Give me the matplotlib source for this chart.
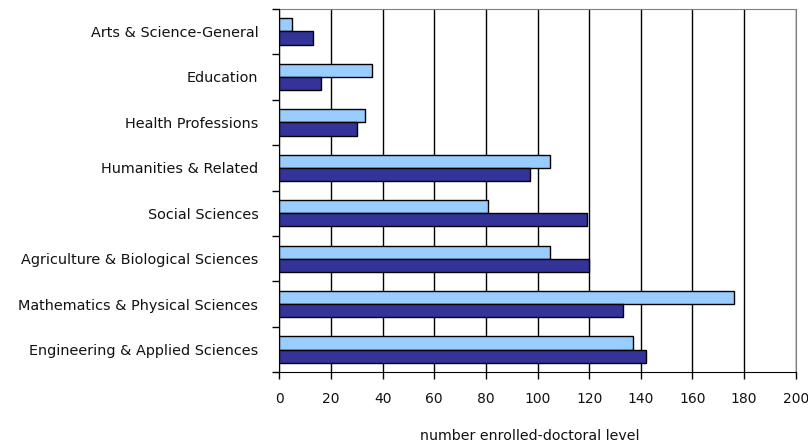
import numpy as np
import matplotlib.pyplot as plt

fields = ["Arts & Science-General", "Education", "Health Professions",
          "Humanities & Related", "Social Sciences",
          "Agriculture & Biological Sciences",
          "Mathematics & Physical Sciences", "Engineering & Applied Sciences"]
light_vals = [5, 36, 33, 105, 81, 105, 176, 137]
dark_vals = [13, 16, 30, 97, 119, 120, 133, 142]
x_ticks = [0, 20, 40, 60, 80, 100, 120, 140, 160, 180, 200]

plt.rcParams['font.family'] = ['DejaVu Sans']
plt.rcParams['font.size'] = 10

fig = plt.figure(figsize=(8.08, 4.46), dpi=100)
ax = fig.add_axes([0.3457, 0.1652, 0.6391, 0.8153])

pos = np.arange(len(fields))
h = 0.29
ax.barh(pos - h / 2, light_vals, height=h, color='#99CCFF', edgecolor='black', linewidth=1.0, zorder=3)
ax.barh(pos + h / 2, dark_vals, height=h, color='#333399', edgecolor='black', linewidth=1.0, zorder=3)

ax.set_xlim(0, 200)
ax.set_ylim(len(fields) - 0.5, -0.5)
ax.set_xticks(x_ticks)
ax.set_xticklabels([str(t) for t in x_ticks], fontsize=10, color='#111111')

# category labels sit between the tick marks at group boundaries
ax.set_yticks(np.arange(-0.5, len(fields), 1.0))
ax.set_yticklabels([])
ax.set_yticks(pos, minor=True)
ax.set_yticklabels(fields, minor=True, color='#111111', fontsize=10.4)
ax.tick_params(axis='y', which='minor', length=0, pad=15)
ax.tick_params(axis='y', which='major', length=5, width=1, direction='out')
ax.tick_params(axis='x', length=5, width=1, direction='out', pad=9)

ax.xaxis.grid(True, color='black', linewidth=1.0, zorder=0)
ax.set_axisbelow(True)
for side in ['top', 'right']:
    ax.spines[side].set_color('#808080')
for side in ['left', 'bottom']:
    ax.spines[side].set_color('black')
    ax.spines[side].set_zorder(4)

ax.set_xlabel('number enrolled-doctoral level', fontsize=10.2, color='#111111',
              labelpad=17, x=0.4855)

fig.savefig('out.png', dpi=100)
